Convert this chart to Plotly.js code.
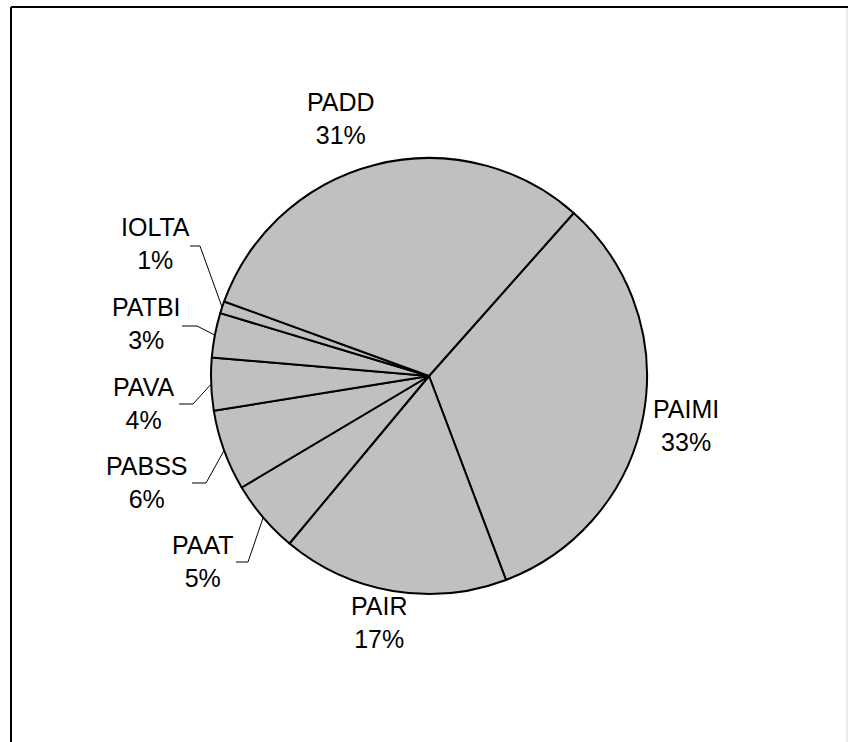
<!DOCTYPE html>
<html>
<head>
<meta charset="utf-8">
<script src="https://cdn.plot.ly/plotly-3.0.1.min.js"></script>
<style>html,body{margin:0;padding:0;background:#fff;}#chart{width:848px;height:742px;}</style>
</head>
<body>
<div id="chart"></div>
<script>
// ---- data ----
var categories = ["PAIMI", "PAIR", "PAAT", "PABSS", "PAVA", "PATBI", "IOLTA", "PADD"];
var values = [32.7, 16.8, 5.4, 6.0, 3.9, 3.3, 0.9, 31.0];

// ---- layout parameters (pixels) ----
var W = 848, H = 742;
var CX = 429, CY = 376, R = 218;
var startAngle = 41.6; // degrees clockwise from 12 o'clock
// label block centres (px)
var labelX = [686, 379, 203, 147, 143, 146, 155, 341];
var labelY = [425, 622, 561, 482, 403, 323, 244, 119];
// leader line: horizontal end x, elbow x, elbow y (null = no leader)
var leadEndX = [null, null, 236, 192, 179, 182, 190, null];
var leadElbowX = [null, null, 248, 206, 193, 197, 200, null];
var leadY = [null, null, 562, 483, 404, 326, 246, null];
var FONT = {family: "Liberation Sans, Arial, sans-serif", size: 25, color: "#000"};

function px(x) { return x / W; }
function py(y) { return 1 - y / H; }

var total = values.reduce(function (a, b) { return a + b; }, 0);

var annotations = [];
var shapes = [];
var acc = 0;
for (var i = 0; i < values.length; i++) {
  var mid = startAngle + (acc + values[i] / 2) / total * 360;
  acc += values[i];
  var pct = Math.round(values[i] / total * 100) + "%";
  annotations.push({
    xref: "paper", yref: "paper", x: px(labelX[i]), y: py(labelY[i]),
    xanchor: "center", yanchor: "middle", showarrow: false,
    text: categories[i] + "<br>" + pct, font: FONT, align: "center"
  });
  if (leadEndX[i] !== null) {
    var a = mid * Math.PI / 180;
    var sx = CX + R * Math.sin(a), sy = CY - R * Math.cos(a);
    shapes.push({
      type: "path", xref: "paper", yref: "paper",
      path: "M " + px(sx) + "," + py(sy) + " L " + px(leadElbowX[i]) + "," + py(leadY[i]) + " L " + px(leadEndX[i]) + "," + py(leadY[i]),
      line: {color: "#000", width: 1}
    });
  }
}

// frame
shapes.push({type: "line", xref: "paper", yref: "paper", x0: px(11), y0: py(7), x1: px(849), y1: py(7), line: {color: "#000", width: 2}});
shapes.push({type: "line", xref: "paper", yref: "paper", x0: px(11), y0: py(7), x1: px(11), y1: py(745), line: {color: "#000", width: 2}});
shapes.push({type: "line", xref: "paper", yref: "paper", x0: px(847), y0: py(8), x1: px(847), y1: py(745), line: {color: "#d0d0d0", width: 1}});

var trace = {
  type: "pie",
  values: values,
  labels: categories,
  sort: false,
  direction: "clockwise",
  rotation: startAngle,
  textinfo: "none",
  hoverinfo: "none",
  showlegend: false,
  marker: {colors: categories.map(function () { return "#C0C0C0"; }), line: {color: "#000", width: 2}},
  domain: {x: [px(CX - R), px(CX + R)], y: [py(CY + R), py(CY - R)]}
};

var layout = {
  width: W, height: H,
  margin: {l: 0, r: 0, t: 0, b: 0},
  paper_bgcolor: "#fff",
  showlegend: false,
  annotations: annotations,
  shapes: shapes
};

Plotly.newPlot("chart", [trace], layout, {displayModeBar: false, staticPlot: true});
</script>
</body>
</html>
